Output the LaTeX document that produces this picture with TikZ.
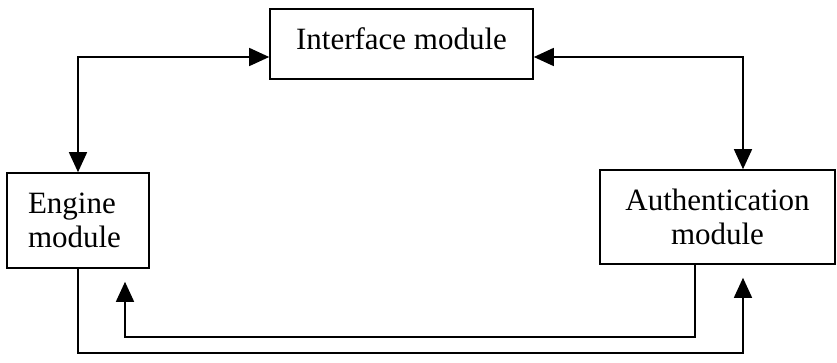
\documentclass[tikz,border=0pt]{standalone}
\usepackage{fontspec}
\setmainfont{Liberation Serif}
\usetikzlibrary{arrows.meta}
\begin{document}
\begin{tikzpicture}[x=0.5pt, y=-0.5pt]
        \tikzstyle{modbox} = [draw, line width=0.8pt, inner sep=0pt, font=\fontsize{15.5}{17}\selectfont]
        \tikzstyle{link} = [line width=0.75pt, >={Triangle[length=10pt, width=9pt]}]
        \useasboundingbox (0,0) rectangle (837,363);
        \node[modbox, minimum width=131.5pt, minimum height=35pt, text depth=5pt] (I) at (401.5,44) {Interface module};
        \node[modbox, minimum height=47.5pt, text width=50pt, inner xsep=10.5pt, align=left] (E) at (78,220.5) {Engine\\module};
        \node[modbox, minimum width=117.5pt, minimum height=47pt, align=center] (A) at (717.5,217) {Authentication\\module};
        \coordinate (tl) at (78,57);
        \coordinate (tr) at (743,57);
        \coordinate (bl) at (78,353);
        \coordinate (br) at (743,353);
        \coordinate (ml) at (125,337);
        \coordinate (mr) at (695,337);
        \draw[link, <->] (I.west |- tl) -- (tl) -- (E.north);
        \draw[link, <->] (I.east |- tr) -- (tr) -- (tr |- A.north);
        \draw[link, ->, shorten >=6.5pt] (E.south) -- (bl) -- (br) -- (br |- A.south);
        \draw[link, ->, shorten >=6.5pt] (mr |- A.south) -- (mr) -- (ml) -- (ml |- E.south);
      \end{tikzpicture}
\end{document}
